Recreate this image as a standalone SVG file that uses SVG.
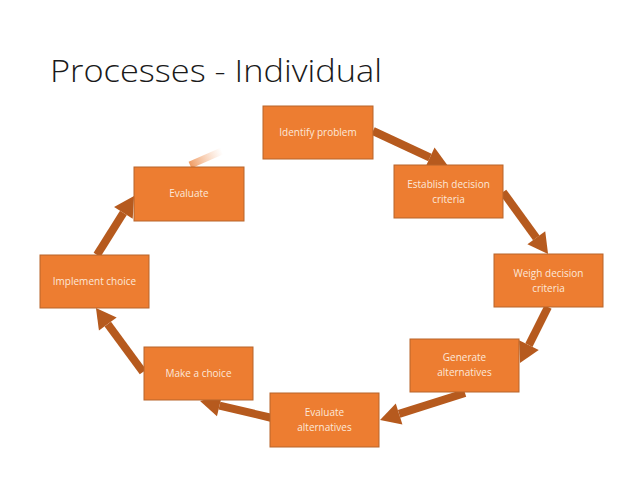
<svg xmlns="http://www.w3.org/2000/svg" width="638" height="479" viewBox="0 0 638 479">
<defs>
<style>
.box{fill:#ED7D31;stroke:#B7642B;stroke-width:1}
.lbl{font-family:"Open Sans","Liberation Sans",sans-serif;font-size:10px;fill:#FCE8DA;text-anchor:middle}
.title{font-family:"Open Sans","Liberation Sans",sans-serif;font-weight:300;font-size:31px;fill:#1a1a1a}
.arr{stroke:#B65A1E;stroke-width:8;fill:none;marker-end:url(#head)}
</style>
<marker id="head" markerUnits="userSpaceOnUse" viewBox="0 -12 22 24" markerWidth="22" markerHeight="24" refX="0" refY="0" orient="auto" overflow="visible">
<path d="M0,-11 L20,0 L0,11 z" fill="#B65A1E"/>
</marker>
<linearGradient id="fade" x1="190" y1="165" x2="222" y2="151" gradientUnits="userSpaceOnUse">
<stop offset="0" stop-color="#EE9050" stop-opacity="0.9"/>
<stop offset="1" stop-color="#F5B58A" stop-opacity="0"/>
</linearGradient>
</defs>
<rect width="638" height="479" fill="#ffffff"/>
<text class="title" x="50" y="82" textLength="332" lengthAdjust="spacingAndGlyphs">Processes - Individual</text>
<g id="connectors">
<line class="arr" x1="373" y1="131" x2="429.9" y2="157.5"/>
<line class="arr" x1="503" y1="192" x2="536.3" y2="237.8"/>
<line class="arr" x1="548" y1="307" x2="528.9" y2="345.1"/>
<line class="arr" x1="465" y1="393" x2="399.1" y2="413.9"/>
<line class="arr" x1="272" y1="418" x2="219.5" y2="405.6"/>
<line class="arr" x1="143" y1="372" x2="107.8" y2="324.1"/>
<line class="arr" x1="97" y1="255" x2="123.4" y2="212.9"/>
<line x1="190" y1="165" x2="222" y2="151" stroke="url(#fade)" stroke-width="7"/>
</g>
<g id="identify"><rect class="box" x="263" y="106" width="110" height="53"/><text class="lbl" x="318" y="136">Identify problem</text></g>
<g id="establish"><rect class="box" x="394" y="165" width="109" height="53"/><text class="lbl" x="448.5" y="188">Establish decision</text><text class="lbl" x="448.5" y="203">criteria</text></g>
<g id="weigh"><rect class="box" x="494" y="254" width="109" height="53"/><text class="lbl" x="548.5" y="277">Weigh decision</text><text class="lbl" x="548.5" y="292">criteria</text></g>
<g id="generate"><rect class="box" x="410" y="339" width="109" height="53"/><text class="lbl" x="464.5" y="361">Generate</text><text class="lbl" x="464.5" y="376">alternatives</text></g>
<g id="evalalt"><rect class="box" x="270" y="393" width="109" height="54"/><text class="lbl" x="324.5" y="416">Evaluate</text><text class="lbl" x="324.5" y="431">alternatives</text></g>
<g id="make"><rect class="box" x="144" y="347" width="109" height="53"/><text class="lbl" x="198.5" y="377">Make a choice</text></g>
<g id="implement"><rect class="box" x="40" y="255" width="109" height="53"/><text class="lbl" x="94.5" y="285">Implement choice</text></g>
<g id="evaluate"><rect class="box" x="134" y="167" width="110" height="54"/><text class="lbl" x="189" y="197">Evaluate</text></g>
</svg>
